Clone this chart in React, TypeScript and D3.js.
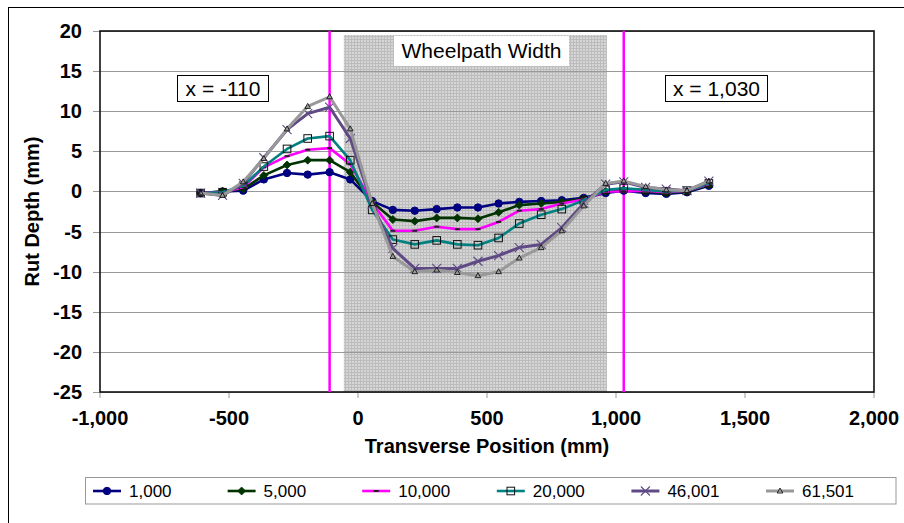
import React from "react";
import * as d3 from "d3";

const xPositions = [-610, -525, -445, -365, -275, -195, -110, -30, 55, 135, 220, 305, 385, 465, 545, 625, 710, 790, 875, 960, 1030, 1115, 1195, 1275, 1360];

const s1000 = [-0.2, 0.0, 0.1, 1.5, 2.3, 2.1, 2.4, 1.5, -1.2, -2.3, -2.4, -2.2, -2.0, -2.0, -1.5, -1.3, -1.2, -1.1, -0.8, -0.2, 0.1, -0.2, -0.3, -0.1, 0.7];
const s5000 = [-0.2, 0.0, 0.3, 2.0, 3.3, 3.9, 3.9, 2.4, -1.3, -3.5, -3.7, -3.3, -3.3, -3.4, -2.6, -1.7, -1.5, -1.3, -0.9, 0.0, 0.2, 0.0, -0.2, 0.0, 0.8];
const s10000 = [-0.2, -0.1, 0.5, 3.0, 4.4, 5.2, 5.4, 3.4, -1.4, -4.9, -4.9, -4.4, -4.7, -4.7, -3.8, -2.4, -2.2, -1.5, -1.0, 0.0, 0.0, 0.1, -0.1, 0.1, 0.9];
const s20000 = [-0.2, -0.1, 0.7, 3.1, 5.3, 6.6, 6.9, 3.9, -2.3, -6.0, -6.6, -6.1, -6.6, -6.7, -5.8, -4.0, -2.9, -2.2, -1.1, 0.2, 0.4, 0.2, 0.0, 0.1, 1.0];
const s46001 = [-0.2, -0.5, 1.0, 4.2, 7.7, 9.7, 10.5, 6.6, -1.6, -7.1, -9.6, -9.6, -9.6, -8.7, -8.0, -7.0, -6.6, -4.5, -1.5, 0.9, 1.2, 0.5, 0.3, 0.1, 1.3];
const s61501 = [-0.2, -0.5, 1.2, 4.1, 7.8, 10.6, 11.8, 7.8, -1.5, -8.1, -10.0, -9.8, -10.1, -10.5, -10.0, -8.3, -7.0, -4.9, -1.8, 1.0, 1.3, 0.6, 0.2, 0.1, 1.3];

const seriesNames = ["1,000", "5,000", "10,000", "20,000", "46,001", "61,501"];
const seriesValues = [s1000, s5000, s10000, s20000, s46001, s61501];
const seriesColors = ["#000080", "#003300", "#ff00ff", "#008080", "#604a85", "#999999"];
const seriesMarkers = ["circle", "diamond", "dash", "square", "x", "triangle"];

const xTicks = [-1000, -500, 0, 500, 1000, 1500, 2000];
const yTicks = [20, 15, 10, 5, 0, -5, -10, -15, -20, -25];
const wheelpathRange = [-55, 965, 19.5];
const markerLines = [-110, 1030];
const markerLabels = ["x = -110", "x = 1,030"];

const W = 904, H = 523;
const PL = 100, PR = 874, PT = 31, PB = 392;
const FONT = "'Liberation Sans', Arial, sans-serif";

function Marker({ type, x, y, color }: { type: string; x: number; y: number; color: string }) {
  switch (type) {
    case "circle":
      return <circle cx={x} cy={y} r={3.7} fill={color} stroke={color} strokeWidth={1} />;
    case "diamond":
      return <path d={`M${x},${y - 4}L${x + 4},${y}L${x},${y + 4}L${x - 4},${y}Z`} fill={color} stroke={color} strokeWidth={0.8} />;
    case "dash":
      return <line x1={x - 2.5} x2={x + 2.5} y1={y} y2={y} stroke="#222" strokeWidth={2} />;
    case "square":
      return <rect x={x - 3.8} y={y - 3.8} width={7.6} height={7.6} fill="none" stroke="#111" strokeWidth={1} />;
    case "x":
      return <path d={`M${x - 4.5},${y - 4.5}L${x + 4.5},${y + 4.5}M${x - 4.5},${y + 4.5}L${x + 4.5},${y - 4.5}`} stroke={color} strokeWidth={1.1} fill="none" />;
    case "triangle":
      return <path d={`M${x},${y - 3}L${x + 2.8},${y + 2}L${x - 2.8},${y + 2}Z`} fill="none" stroke="#111" strokeWidth={0.9} />;
    default:
      return null;
  }
}

export default function App() {
  const x = d3.scaleLinear().domain([-1000, 2000]).range([PL, PR]);
  const y = d3.scaleLinear().domain([-25, 20]).range([PB, PT]);
  const line = d3.line<[number, number]>().x((d) => x(d[0])).y((d) => y(d[1]));
  const fmt = (v: number) => d3.format(",")(v).replace("\u2212", "-");

  const legendLeft = 93, legendStep = 134.6, legendY = 491;

  return (
    <svg width={W} height={H} style={{ display: "block", position: "absolute", left: 0, top: 0 }} fontFamily={FONT}>
      <defs>
        <pattern id="wp" width={3} height={3} patternUnits="userSpaceOnUse">
          <rect width={3} height={3} fill="#d6d6d6" />
          <rect width={3} height={1} fill="#bcbcbc" />
          <rect width={1} height={3} fill="#bcbcbc" />
        </pattern>
      </defs>
      <rect x={0} y={0} width={W} height={H} fill="#fff" />
      <rect x={8.5} y={7.5} width={W + 20} height={H + 20} fill="none" stroke="#000" strokeWidth={1} />

      {/* wheelpath shading */}
      <rect x={x(wheelpathRange[0])} y={y(wheelpathRange[2])} width={x(wheelpathRange[1]) - x(wheelpathRange[0])} height={PB - y(wheelpathRange[2])} fill="url(#wp)" />

      {/* gridlines */}
      {yTicks.map((t) => (
        <line key={"g" + t} x1={PL - 7} x2={PR} y1={Math.round(y(t)) + 0.5} y2={Math.round(y(t)) + 0.5} stroke="#999" strokeWidth={1} />
      ))}
      {xTicks.map((t) => (
        <line key={"xt" + t} x1={x(t)} x2={x(t)} y1={PB} y2={PB + 6} stroke="#999" strokeWidth={1} />
      ))}

      {/* plot border */}
      <rect x={PL} y={PT} width={PR - PL} height={PB - PT} fill="none" stroke="#111" strokeWidth={1.6} />

      {/* wheelpath label */}
      <rect x={394} y={36} width={175} height={30} fill="#fff" />
      <text x={481.5} y={58} textAnchor="middle" fontSize={21} fill="#000">Wheelpath Width</text>

      {/* vertical marker lines */}
      {markerLines.map((v) => (
        <line key={"m" + v} x1={x(v)} x2={x(v)} y1={PT} y2={PB} stroke="#ff00ff" strokeWidth={2.5} />
      ))}

      {/* series */}
      {seriesValues.map((vals, i) => {
        const pts: [number, number][] = vals.map((v, j) => [xPositions[j], v]);
        return (
          <g key={"s" + i}>
            <path d={line(pts) || ""} fill="none" stroke={seriesColors[i]} strokeWidth={i >= 4 ? 3 : 2.6} strokeLinejoin="round" />
            {pts.map((p, j) => (
              <Marker key={j} type={seriesMarkers[i]} x={x(p[0])} y={y(p[1])} color={seriesColors[i]} />
            ))}
          </g>
        );
      })}

      {/* annotation boxes */}
      <rect x={177.5} y={75.5} width={91} height={26} fill="#fff" stroke="#000" strokeWidth={1} />
      <text x={223} y={96} textAnchor="middle" fontSize={21} fill="#000">{markerLabels[0]}</text>
      <rect x={665.5} y={75.5} width={102} height={26} fill="#fff" stroke="#000" strokeWidth={1} />
      <text x={716.5} y={96} textAnchor="middle" fontSize={21} fill="#000">{markerLabels[1]}</text>

      {/* y tick labels */}
      {yTicks.map((t) => (
        <text key={"yl" + t} x={82} y={y(t) + 7} textAnchor="end" fontSize={20} fontWeight="bold" fill="#000">{String(t)}</text>
      ))}
      {/* x tick labels */}
      {xTicks.map((t) => (
        <text key={"xl" + t} x={x(t)} y={425} textAnchor="middle" fontSize={20} fontWeight="bold" fill="#000">{fmt(t)}</text>
      ))}

      {/* axis titles */}
      <text x={(PL + PR) / 2} y={453} textAnchor="middle" fontSize={20} fontWeight="bold" fill="#000">Transverse Position (mm)</text>
      <text transform={`translate(39,${(PT + PB) / 2}) rotate(-90)`} textAnchor="middle" fontSize={20} fontWeight="bold" fill="#000">Rut Depth (mm)</text>

      {/* legend */}
      <rect x={85.5} y={477.5} width={810.5} height={26.5} fill="#fff" stroke="#999" strokeWidth={1} />
      {seriesNames.map((n, i) => {
        const lx = legendLeft + i * legendStep;
        return (
          <g key={"lg" + i}>
            <line x1={lx} x2={lx + 28} y1={legendY} y2={legendY} stroke={seriesColors[i]} strokeWidth={i >= 4 ? 3 : 2.6} />
            <Marker type={seriesMarkers[i]} x={lx + 14} y={legendY} color={seriesColors[i]} />
            <text x={lx + 36} y={legendY + 6} fontSize={17} fill="#000">{n}</text>
          </g>
        );
      })}
    </svg>
  );
}
